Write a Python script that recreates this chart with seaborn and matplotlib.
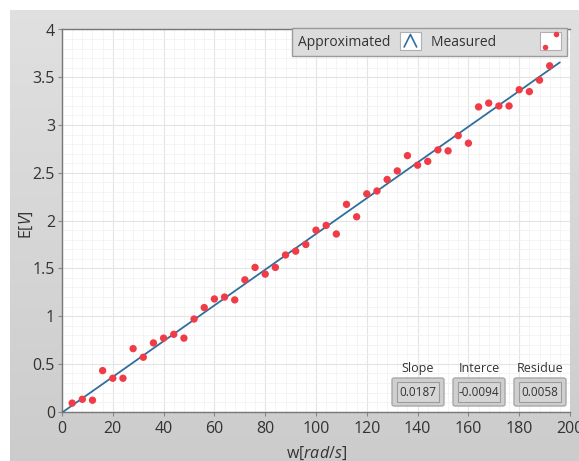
import numpy as np
import pandas as pd
import seaborn as sns
import matplotlib.pyplot as plt
from matplotlib.lines import Line2D
from matplotlib.patches import Rectangle, FancyBboxPatch
from matplotlib.legend_handler import HandlerBase
from matplotlib.ticker import AutoMinorLocator, FuncFormatter

# measured points
w_measured = [4, 8, 12, 16, 20, 24, 28, 32, 36, 40, 44, 48, 52, 56, 60, 64,
              68, 72, 76, 80, 84, 88, 92, 96, 100, 104, 108, 112, 116, 120,
              124, 128, 132, 136, 140, 144, 148, 152, 156, 160, 164, 168, 172,
              176, 180, 184, 188, 192]
e_measured = [0.09, 0.13, 0.12, 0.43, 0.35, 0.35, 0.66, 0.57, 0.72, 0.77,
              0.81, 0.77, 0.97, 1.09, 1.18, 1.20, 1.17, 1.38, 1.51, 1.44,
              1.51, 1.64, 1.68, 1.75, 1.90, 1.95, 1.86, 2.17, 2.04, 2.28,
              2.31, 2.43, 2.52, 2.68, 2.58, 2.62, 2.74, 2.73, 2.89, 2.81,
              3.19, 3.23, 3.20, 3.20, 3.37, 3.35, 3.47, 3.62]

# fitted line end points
w_fit = [0, 196]
e_fit = [-0.0094, 3.656]

fit_names = ["Slope", "Interce", "Residue"]
fit_values = ["0.0187", "-0.0094", "0.0058"]

x_ticks = [0, 20, 40, 60, 80, 100, 120, 140, 160, 180, 200]
y_ticks = [0, 0.5, 1, 1.5, 2, 2.5, 3, 3.5, 4]

measured = pd.DataFrame({"w": w_measured, "E": e_measured})
fit = pd.DataFrame({"w": w_fit, "E": e_fit})

sns.set_style("white")
plt.rcParams["font.family"] = ["Open Sans", "DejaVu Sans"]
plt.rcParams["mathtext.fontset"] = "custom"
plt.rcParams["mathtext.rm"] = "Open Sans"
plt.rcParams["mathtext.it"] = "Open Sans:italic"

LINE = "#2f6f9f"
DOT = "#f03c46"
TXT = "#333333"

W, H = 579, 461
fig = plt.figure(figsize=(W / 100, H / 100), dpi=100)
fig.patch.set_facecolor("white")

# grey panel behind the graph
bg = fig.add_axes([10 / W, 0, 1 - 10 / W, 451 / H])
grad = np.linspace(0.88, 0.80, 256).reshape(-1, 1)
bg.imshow(np.dstack([grad, grad, grad]), aspect="auto", extent=[0, 1, 0, 1])
bg.set_axis_off()

ax = fig.add_axes([62 / W, (H - 411.7) / H, 508 / W, 382.2 / H])
ax.set_facecolor("white")

sns.lineplot(data=fit, x="w", y="E", ax=ax, color=LINE, linewidth=1.3, zorder=3)
sns.scatterplot(data=measured, x="w", y="E", ax=ax, color=DOT, s=28,
                edgecolor="none", zorder=4)

ax.set_xlim(0, 200)
ax.set_ylim(0, 4)
ax.set_xticks(x_ticks)
ax.set_yticks(y_ticks)
ax.xaxis.set_minor_locator(AutoMinorLocator(5))
ax.yaxis.set_minor_locator(AutoMinorLocator(5))
ax.yaxis.set_major_formatter(FuncFormatter(lambda v, p: f"{v:g}"))
ax.grid(which="major", color="#e4e4e4", linewidth=0.8)
ax.grid(which="minor", color="#f2f2f2", linewidth=0.6)
ax.set_axisbelow(True)
ax.tick_params(which="major", length=3, width=0.8, color="#888888",
               labelsize=11.5, labelcolor=TXT, pad=2, direction="out",
               bottom=True, left=True)
ax.tick_params(axis="x", pad=4)
ax.tick_params(which="minor", length=0)
for side in ["left", "bottom", "top"]:
    ax.spines[side].set_color("#777777")
    ax.spines[side].set_linewidth(1.0)
ax.spines["right"].set_visible(False)

ax.set_xlabel(r"w[$\mathit{rad/s}$]", fontsize=11.5, color=TXT, labelpad=5)
ax.set_ylabel(r"E[$\mathit{V}$]", fontsize=11.5, color=TXT)
ax.yaxis.set_label_coords(-0.054, 0.49)


class LineIcon(HandlerBase):
    def create_artists(self, legend, orig, x0, y0, width, height, fontsize, trans):
        box = Rectangle((x0, y0 - 3), width, height + 6, facecolor="white",
                        edgecolor="#b0b0b0", linewidth=0.8, transform=trans)
        peak = Line2D([x0 + 3, x0 + width / 2, x0 + width - 3],
                      [y0 - 1, y0 + height + 1, y0 - 1], color=LINE,
                      linewidth=1.2, transform=trans)
        return [box, peak]


class DotIcon(HandlerBase):
    def create_artists(self, legend, orig, x0, y0, width, height, fontsize, trans):
        box = Rectangle((x0, y0 - 3), width, height + 6, facecolor="white",
                        edgecolor="#b0b0b0", linewidth=0.8, transform=trans)
        dots = Line2D([x0 + width - 4, x0 + 3], [y0 + height + 1, y0 - 1],
                      linestyle="none", marker="o", markersize=4,
                      markerfacecolor=DOT, markeredgecolor="none",
                      transform=trans)
        return [box, dots]


h_line = Line2D([], [], color=LINE)
h_dot = Line2D([], [], color=DOT, marker="o", linestyle="none")
leg = ax.legend([h_line, h_dot], ["Approximated", "Measured" + "\u2002" * 5], ncol=2,
                handler_map={h_line: LineIcon(), h_dot: DotIcon()},
                loc="upper right", bbox_to_anchor=(0.995, 1.003),
                markerfirst=False, fontsize=10, frameon=True, fancybox=False,
                handlelength=1.5, handletextpad=0.7, columnspacing=0.7,
                borderpad=0.45, borderaxespad=0)
leg.get_frame().set_facecolor("#dcdcdc")
leg.get_frame().set_edgecolor("#9a9a9a")
leg.get_frame().set_alpha(1)
for t in leg.get_texts():
    t.set_color(TXT)

# fit result boxes
centers = [418, 479, 540]
for cx, name, val in zip(centers, fit_names, fit_values):
    fig.text(cx / W, (H - 368) / H, name, ha="center", va="center",
             fontsize=9, color=TXT)
    outer = FancyBboxPatch(((cx - 26) / W, (H - 406) / H), 52 / W, 28 / H,
                           boxstyle="round,pad=0,rounding_size=0.004",
                           transform=fig.transFigure, facecolor="#cfcfcf",
                           edgecolor="#a8a8a8", linewidth=1.0, zorder=5)
    inner = Rectangle(((cx - 21) / W, (H - 402) / H), 42 / W, 20 / H,
                      transform=fig.transFigure, facecolor="#d6d6d6",
                      edgecolor="#9c9c9c", linewidth=0.8, zorder=6)
    fig.add_artist(outer)
    fig.add_artist(inner)
    fig.text(cx / W, (H - 392) / H, val, ha="center", va="center",
             fontsize=8.5, color=TXT, zorder=7)

fig.savefig("out.png", dpi=100)
